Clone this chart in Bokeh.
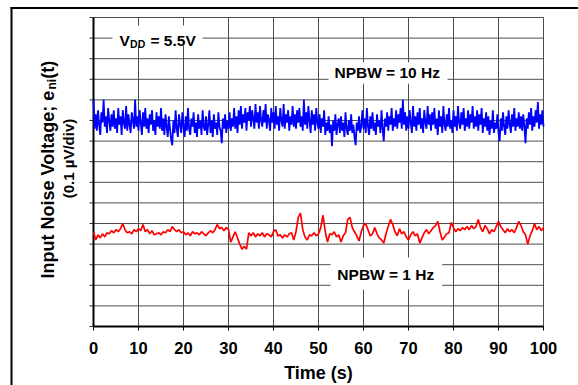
import math
from bokeh.plotting import figure
from bokeh.models import Label, BoxAnnotation, Range1d
from bokeh.core.properties import value
from bokeh.embed import file_html
from bokeh.resources import INLINE

# ---------------- data ----------------
# NPBW = 10 Hz trace (uV), sampled every 0.25 s
blue_dt = 0.25
blue_uv = [
    1.10, 0.96, 1.03, 0.95, 1.05, 0.98, 0.93, 1.04, 0.99, 1.10, 0.97, 1.02, 0.94, 1.06, 1.00, 0.95, 1.03, 0.97, 1.05, 0.96,
    1.01, 0.94, 1.06, 0.98, 1.02, 0.93, 1.05, 0.99, 0.96, 1.07, 0.95, 1.03, 0.98, 0.94, 1.04, 1.00, 0.96, 1.10, 0.97, 1.02,
    0.95, 1.05, 0.99, 0.93, 1.04, 0.97, 1.06, 0.96, 1.01, 0.94, 1.03, 0.98, 1.05, 0.95, 1.00, 0.93, 1.04, 0.97, 1.02, 0.96,
    1.06, 0.95, 1.01, 0.93, 1.03, 0.97, 0.92, 1.02, 0.96, 0.91, 0.88, 1.00, 0.94, 1.05, 0.96, 0.92, 1.03, 0.98, 0.94, 1.04,
    0.97, 0.92, 1.02, 0.95, 1.06, 0.96, 0.93, 1.01, 0.97, 1.04, 0.94, 0.99, 0.92, 1.03, 0.96, 1.00, 0.93, 1.05, 0.97, 0.95,
    1.02, 0.93, 0.98, 1.05, 0.94, 1.00, 0.92, 1.03, 0.96, 0.99, 0.93, 1.04, 0.97, 0.95, 0.89, 1.01, 0.96, 1.03, 0.94, 1.00,
    0.96, 1.04, 0.95, 1.01, 0.97, 1.06, 0.96, 1.02, 0.94, 1.05, 0.98, 1.07, 0.96, 1.03, 0.99, 1.06, 0.95, 1.04, 1.00, 1.07,
    0.97, 1.05, 1.01, 0.96, 1.08, 0.99, 1.04, 0.96, 1.07, 1.00, 0.97, 1.05, 0.99, 1.08, 0.96, 1.03, 1.00, 0.95, 1.06, 0.99,
    1.04, 0.96, 1.07, 0.98, 1.02, 0.95, 1.06, 1.00, 0.97, 1.08, 0.96, 1.03, 0.99, 1.05, 0.95, 1.02, 0.98, 1.07, 0.97, 1.03,
    0.96, 1.05, 0.99, 1.06, 0.97, 1.02, 0.95, 1.10, 0.98, 1.04, 0.96, 1.07, 1.00, 0.94, 1.05, 0.98, 1.03, 0.95, 1.06, 0.99,
    0.96, 1.03, 0.94, 1.01, 0.97, 1.05, 0.93, 0.99, 0.95, 1.02, 0.94, 0.98, 0.875, 1.00, 0.95, 1.03, 0.93, 0.98, 1.01, 0.94,
    1.02, 0.95, 0.99, 0.92, 1.04, 0.96, 0.93, 1.00, 0.95, 1.03, 0.94, 0.98, 0.92, 0.88, 0.99, 0.95, 1.02, 0.94, 0.97, 1.05,
    0.96, 1.01, 0.94, 1.06, 0.97, 0.93, 1.02, 0.96, 1.04, 0.95, 0.99, 0.93, 1.03, 0.97, 1.00, 0.94, 1.05, 0.96, 0.90, 1.01,
    0.97, 1.04, 0.95, 1.02, 0.98, 1.06, 0.95, 1.01, 0.97, 1.05, 0.96, 1.03, 0.99, 1.06, 0.96, 1.10, 0.98, 1.04, 0.95, 1.02,
    0.96, 1.05, 0.99, 0.94, 1.07, 0.97, 1.02, 0.95, 1.04, 0.98, 1.06, 0.96, 1.01, 0.94, 1.05, 0.99, 0.96, 1.07, 0.98, 1.03,
    0.95, 1.04, 0.98, 1.06, 0.96, 1.01, 0.93, 1.05, 0.97, 1.02, 0.94, 1.07, 0.98, 0.95, 1.03, 0.97, 1.06, 0.96, 1.00, 0.94,
    1.05, 0.97, 1.02, 0.95, 1.07, 0.99, 0.96, 1.04, 0.98, 1.06, 0.95, 1.01, 0.97, 1.05, 0.96, 1.03, 0.99, 1.07, 0.96, 1.02,
    0.97, 1.05, 0.95, 1.03, 0.98, 1.06, 0.94, 1.01, 0.97, 1.04, 0.95, 1.02, 0.93, 1.00, 0.96, 1.05, 0.94, 0.99, 0.96, 1.03,
    0.94, 0.90, 1.01, 0.95, 1.04, 0.97, 0.93, 1.02, 0.96, 1.05, 0.98, 0.94, 1.03, 0.97, 1.06, 0.95, 1.01, 0.97, 1.04, 0.96,
    1.02, 0.95, 1.03, 0.97, 0.89, 1.01, 0.96, 1.04, 0.98, 1.06, 0.95, 1.02, 0.97, 1.05, 0.99, 1.09, 0.96, 1.03, 0.98, 1.05,
    0.97,
]

# NPBW = 1 Hz trace (uV), sampled every 0.5 s
red_dt = 0.5
red_uv = [
    0.460, 0.420, 0.445, 0.430, 0.450, 0.435, 0.455, 0.450, 0.465, 0.455,
    0.470, 0.460, 0.475, 0.500, 0.470, 0.455, 0.460, 0.450, 0.470, 0.460,
    0.475, 0.465, 0.495, 0.460, 0.470, 0.450, 0.465, 0.445, 0.450, 0.455,
    0.445, 0.460, 0.455, 0.470, 0.460, 0.485, 0.470, 0.460, 0.470, 0.455,
    0.460, 0.445, 0.455, 0.440, 0.460, 0.450, 0.455, 0.445, 0.460, 0.450,
    0.440, 0.455, 0.465, 0.455, 0.470, 0.495, 0.475, 0.480, 0.465, 0.480,
    0.470, 0.410, 0.435, 0.460, 0.430, 0.400, 0.375, 0.390, 0.375, 0.455,
    0.440, 0.455, 0.435, 0.450, 0.440, 0.455, 0.435, 0.450, 0.445, 0.435,
    0.460, 0.470, 0.440, 0.445, 0.430, 0.445, 0.435, 0.450, 0.455, 0.420,
    0.460, 0.530, 0.550, 0.470, 0.435, 0.420, 0.445, 0.440, 0.455, 0.440,
    0.450, 0.480, 0.540, 0.460, 0.410, 0.450, 0.445, 0.460, 0.435, 0.445,
    0.410, 0.440, 0.455, 0.520, 0.530, 0.480, 0.460, 0.440, 0.415, 0.460,
    0.490, 0.500, 0.470, 0.440, 0.450, 0.480, 0.450, 0.430, 0.420, 0.405,
    0.450, 0.485, 0.520, 0.495, 0.460, 0.440, 0.475, 0.450, 0.460, 0.435,
    0.420, 0.445, 0.460, 0.440, 0.450, 0.405, 0.430, 0.455, 0.470, 0.450,
    0.465, 0.480, 0.490, 0.510, 0.460, 0.420, 0.435, 0.450, 0.455, 0.505,
    0.480, 0.460, 0.475, 0.465, 0.480, 0.470, 0.485, 0.470, 0.490, 0.475,
    0.485, 0.520, 0.480, 0.460, 0.490, 0.475, 0.450, 0.470, 0.460, 0.485,
    0.510, 0.485, 0.470, 0.455, 0.475, 0.460, 0.470, 0.455, 0.480, 0.510,
    0.490, 0.460, 0.445, 0.400, 0.440, 0.465, 0.500, 0.470, 0.485, 0.465,
    0.480,
]

x_ticks = [0, 10, 20, 30, 40, 50, 60, 70, 80, 90, 100]
x_tick_labels = ["0", "10", "20", "30", "40", "50", "60", "70", "80", "90", "100"]
y_grid = [0.0, 0.1, 0.2, 0.3, 0.4, 0.5, 0.6, 0.7, 0.8, 0.9, 1.0,
          1.1, 1.2, 1.3, 1.4, 1.5]
x_min, x_max = 0, 100
y_min, y_max = 0.0, 1.5

blue_t = [i * blue_dt for i in range(len(blue_uv))]
red_t = [i * red_dt for i in range(len(red_uv))]

FONT = "Liberation Sans"

# ---------------- layout (pixels) ----------------
W, H = 578, 385
FL, FR, FT, FB = 93, 543, 17, 326           # plot-area edges in canvas pixels
SX = (FR - FL) / (x_max - x_min)            # px per second
SY = (FB - FT) / (y_max - y_min)            # px per uV


def tx(px):
    return x_min + (px - FL) / SX


def vy(py):
    return y_min + (FB - py) / SY


p = figure(width=W, height=H,
           min_border_left=0, min_border_right=0, min_border_top=0, min_border_bottom=0,
           x_range=Range1d(tx(0), tx(W)), y_range=Range1d(vy(H), vy(0)),
           x_axis_type=None, y_axis_type=None,
           output_backend="svg", toolbar_location=None)
p.outline_line_color = None
p.background_fill_color = "white"
p.border_fill_color = "white"
p.grid.visible = False

GRID = "#4d4d4d"
n_x = len(x_ticks)
n_y = len(y_grid)

# grid lines (from tick lists)
p.segment(x0=x_ticks, y0=[y_min] * n_x, x1=x_ticks, y1=[y_max] * n_x,
          line_color=GRID, line_width=1)
p.segment(x0=[x_min] * n_y, y0=y_grid, x1=[x_max] * n_y, y1=y_grid,
          line_color=GRID, line_width=1)

# tick marks outside the plot area
p.segment(x0=x_ticks, y0=[y_min] * n_x, x1=x_ticks, y1=[vy(FB + 4)] * n_x,
          line_color="black", line_width=1)
p.segment(x0=[x_min] * n_y, y0=y_grid, x1=[tx(FL - 4)] * n_y, y1=y_grid,
          line_color="#333333", line_width=1)

# axis lines (left and bottom, heavier)
p.line([x_min, x_min], [y_min, y_max], line_color="black", line_width=2)
p.line([x_min, x_max], [y_min, y_min], line_color="black", line_width=2)

# traces
p.line(blue_t, blue_uv, line_color="#0000ff", line_width=1.8)
p.line(red_t, red_uv, line_color="#ff0000", line_width=1.7)

# x tick labels
p.text(x=x_ticks, y=[vy(347)] * n_x, text=x_tick_labels,
       text_font=value(FONT), text_font_style="bold", text_font_size="16.5px",
       text_color="black", text_align="center", text_baseline="middle")

# outer frame of the figure (left and top edges)
p.line([tx(10), tx(W)], [vy(7.5), vy(7.5)], line_color="black", line_width=2)
p.line([tx(11), tx(11)], [vy(6.5), vy(H)], line_color="black", line_width=2)


def box(l, r, t, b):
    p.add_layout(BoxAnnotation(left=tx(l), right=tx(r), top=vy(t), bottom=vy(b),
                               fill_color="white", fill_alpha=1.0, line_color=None))


def lab(text, x, y, size, align="left", baseline="alphabetic", angle=0.0):
    p.add_layout(Label(x=x, y=y, text=text, text_font=FONT, text_font_style="bold",
                       text_font_size=size, text_color="black", text_align=align,
                       text_baseline=baseline, angle=angle))


# white boxes behind in-plot labels
box(112, 202, 25, 45)
box(328, 447, 61.7, 83.3)
box(330, 441.7, 257, 289)

# V_DD = 5.5V
lab("V", tx(119), vy(40), "15.5px")
lab("DD", tx(129.6), vy(43.5), "10.5px")
lab("= 5.5V", tx(150), vy(40), "15.5px")

lab("NPBW = 10 Hz", tx(386.7), vy(72.2), "15.5px", align="center", baseline="middle")
lab("NPBW = 1 Hz", tx(385.3), vy(273.8), "15.5px", align="center", baseline="middle")

# x axis title
lab("Time (s)", tx(318), vy(372), "18px", align="center", baseline="middle")

# y axis title (rotated)
ang = math.pi / 2
lab("Input Noise Voltage; e", tx(47), vy(278), "18px", angle=ang)
lab("ni", tx(51), vy(89), "12px", angle=ang)
lab("(t)", tx(47), vy(78.3), "18px", angle=ang)
lab("(0.1 µV/div)", tx(68), vy(158), "15px", align="center", baseline="middle", angle=ang)

open("out.html", "w").write(file_html(p, INLINE))
